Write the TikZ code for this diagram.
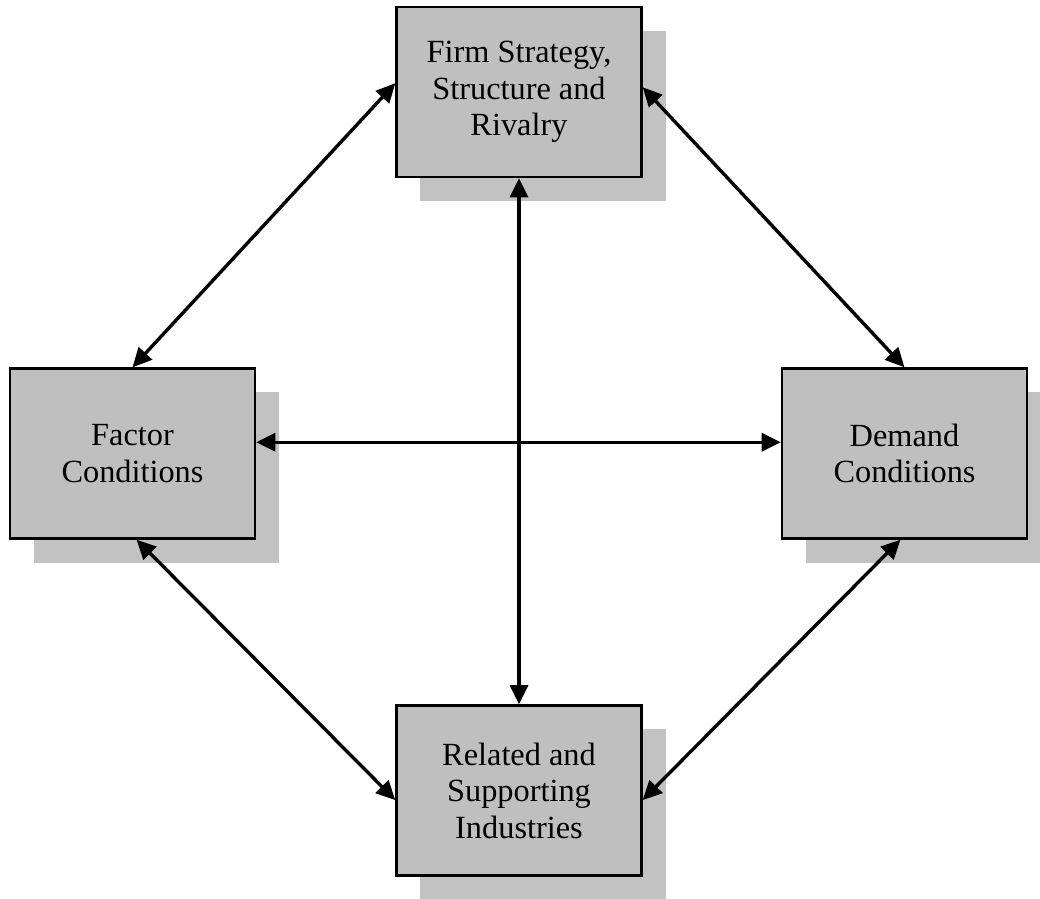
\documentclass[tikz,border=0pt]{standalone}
\usepackage{fontspec}
\setmainfont{Liberation Serif}
\usetikzlibrary{positioning,arrows.meta,shadows}

\begin{document}
\begin{tikzpicture}[
      x=0.025cm, y=-0.025cm,
      font=\fontsize{23}{26}\selectfont,
      box/.style={draw, line width=1.6pt, fill=black!25, align=center,
                  minimum width=6.125cm, minimum height=4.25cm, inner sep=0pt,
                  drop shadow={shadow xshift=0.6cm, shadow yshift=-0.6cm,
                               fill=black!24, opacity=1}},
      arr/.style={{Triangle[length=0.48cm,width=0.45cm]}-{Triangle[length=0.48cm,width=0.45cm]},
                  line width=2.4pt, draw=black}
    ]
    \useasboundingbox (0,0) rectangle (1040,899);

    % the four corners of the diamond
    \node[box] (firm) at (519,92) {Firm Strategy,\\Structure and\\Rivalry};
    \node[box] (fac) at (132.5,453.5) {Factor\\Conditions};
    \node[box] (dem) at (904.5,453.5) {Demand\\Conditions};
    \node[box] (rel) at (519,790.5) {Related and\\Supporting\\Industries};

    % links
    \draw[arr] (fac.north) -- ([yshift=0.22cm]firm.west);
    \draw[arr] ([yshift=0.12cm]firm.east) -- (dem.north);
    \draw[arr] ([xshift=0.1cm]fac.south) -- ([yshift=-0.24cm]rel.west);
    \draw[arr] ([xshift=-0.1cm]dem.south) -- ([yshift=-0.24cm]rel.east);
    \draw[arr] (firm.south) -- (rel.north);
    \draw[arr] ([yshift=0.28cm]fac.east) -- ([yshift=0.28cm]dem.west);
  \end{tikzpicture}
\end{document}
